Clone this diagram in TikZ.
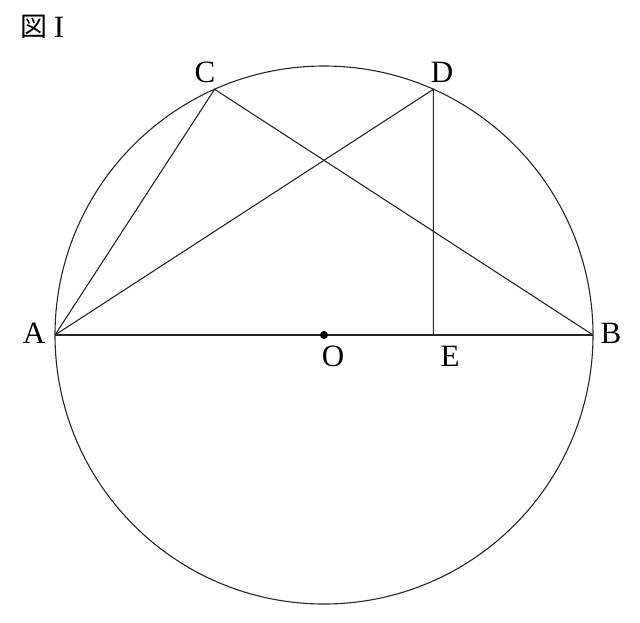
\documentclass[tikz,border=0pt]{standalone}
\usepackage{fontspec}
\usetikzlibrary{calc}
\setmainfont{Liberation Serif}
\newfontfamily\cjk{Noto Sans CJK JP}
\begin{document}
\begin{tikzpicture}[x=1pt,y=-1pt,
  lbl/.style={font=\fontsize{31}{32}\selectfont, inner sep=0pt},
  seg/.style={draw=black!85, line width=1.1pt}]
\useasboundingbox (0,0) rectangle (640,622);
\coordinate (O) at (324,335);
\coordinate (A) at ($(O)+(180:269)$);
\coordinate (B) at ($(O)+(0:269)$);
\coordinate (C) at ($(O)+(-114:269)$);
\coordinate (D) at ($(O)+(-66:269)$);
\coordinate (E) at (D |- O);
\draw[seg] (O) circle (269);
\draw[seg] (A) -- (B);
\draw[seg] (A) -- (C) -- (B);
\draw[seg] (A) -- (D) -- (E);
\fill (O) circle (4);
\node[lbl] (lA) at (34,333) {A};
\node[lbl] (lB) at (611,333) {B};
\node[lbl] (lC) at (205,72) {C};
\node[lbl] (lD) at (442,72) {D};
\node[lbl] (lO) at (333,356) {O};
\node[lbl] (lE) at (450,356) {E};
\node[font=\cjk\fontsize{27}{28}\selectfont, inner sep=0pt] (fig) at (34,27) {図};
\node[lbl] (fignum) at (59,27) {I};
\end{tikzpicture}
\end{document}
